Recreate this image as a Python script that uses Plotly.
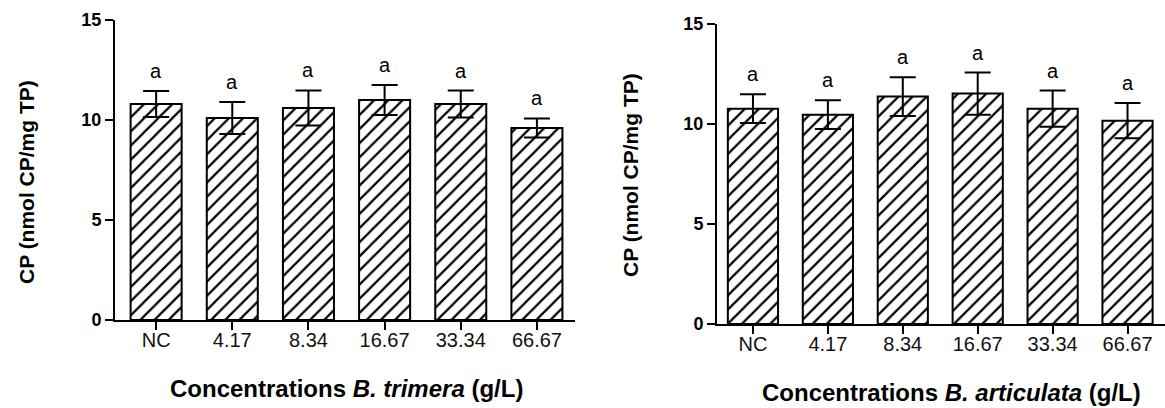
import plotly.graph_objects as go

categories = ["NC", "4.17", "8.34", "16.67", "33.34", "66.67"]

trimera_mean = [10.8, 10.1, 10.6, 11.0, 10.8, 9.6]
trimera_err = [0.65, 0.8, 0.88, 0.75, 0.67, 0.48]
trimera_letters = ["a", "a", "a", "a", "a", "a"]

articulata_mean = [10.75, 10.45, 11.35, 11.5, 10.75, 10.15]
articulata_err = [0.72, 0.72, 0.97, 1.05, 0.9, 0.88]
articulata_letters = ["a", "a", "a", "a", "a", "a"]

y_ticks = [0, 5, 10, 15]

FONT = "Arial, Liberation Sans, sans-serif"

fig = go.Figure()

def add_panel(means, errs, xa, ya):
    fig.add_trace(go.Bar(
        x=list(range(len(categories))), y=means, xaxis=xa, yaxis=ya, width=0.67,
        marker=dict(color="white", line=dict(color="black", width=2),
                    pattern=dict(shape="/", fgcolor="black", bgcolor="white",
                                 fgopacity=1, fillmode="replace",
                                 size=10, solidity=0.22)),
        error_y=dict(type="data", array=errs, visible=True, color="black",
                     thickness=2, width=13),
        showlegend=False, hoverinfo="skip"))

add_panel(trimera_mean, trimera_err, "x", "y")
add_panel(articulata_mean, articulata_err, "x2", "y2")

for means, errs, letters, xr, yr in [
    (trimera_mean, trimera_err, trimera_letters, "x", "y"),
    (articulata_mean, articulata_err, articulata_letters, "x2", "y2"),
]:
    for i, (m, e, t) in enumerate(zip(means, errs, letters)):
        fig.add_annotation(x=i, y=m + e + 1.0, xref=xr, yref=yr, text=t,
                           showarrow=False, yanchor="middle",
                           font=dict(family=FONT, size=20, color="black"))

xaxis_common = dict(tickmode="array", tickvals=list(range(len(categories))),
                    ticktext=categories, showline=True, automargin=False,
                    linecolor="black", linewidth=2, ticks="outside", ticklen=8,
                    tickwidth=2, tickcolor="black", showgrid=False, zeroline=False,
                    ticklabelstandoff=-7,
                    tickfont=dict(family=FONT, size=20, color="#111"))
yaxis_common = dict(range=[0, 15], tickvals=y_ticks, automargin=False,
                    ticktext=["<b>%d</b>" % v for v in y_ticks], showline=True,
                    linecolor="black", linewidth=2, ticks="outside", ticklen=8,
                    tickwidth=2, tickcolor="black", showgrid=False, zeroline=False,
                    tickfont=dict(family=FONT, size=18, color="black"))

fig.update_layout(
    width=1165, height=408,
    margin=dict(l=0, r=0, t=0, b=0, pad=0, autoexpand=False),
    paper_bgcolor="white", plot_bgcolor="white",
    xaxis=dict(domain=[115/1165, 575/1165], anchor="y", range=[-0.54, 5.5],
               **xaxis_common),
    yaxis=dict(domain=[1 - 320/408, 1 - 20/408], anchor="x", **yaxis_common),
    xaxis2=dict(domain=[717/1165, 1.0], anchor="y2", range=[-0.48, 5.5],
                **xaxis_common),
    yaxis2=dict(domain=[1 - 324/408, 1 - 23.5/408], anchor="x2", **yaxis_common),
)

titles = [
    ("<b>Concentrations <i>B. trimera</i> (g/L)</b>", 346/1165, 1 - 388/408, 0, 24),
    ("<b>Concentrations <i>B. articulata</i> (g/L)</b>", 951/1165, 1 - 392/408, 0, 24),
    ("<b>CP (nmol CP/mg TP)</b>", 26/1165, 1 - 182/408, -90, 21),
    ("<b>CP (nmol CP/mg TP)</b>", 630/1165, 1 - 175/408, -90, 21),
]
for text, x, y, ang, fs in titles:
    fig.add_annotation(x=x, y=y, xref="paper", yref="paper", text=text,
                       showarrow=False, textangle=ang, xanchor="center",
                       yanchor="middle",
                       font=dict(family=FONT, size=fs, color="black"))

fig.write_html("out.html", config={"displayModeBar": False},
               post_script="document.body.style.margin='0px';document.body.style.overflow='hidden';")
